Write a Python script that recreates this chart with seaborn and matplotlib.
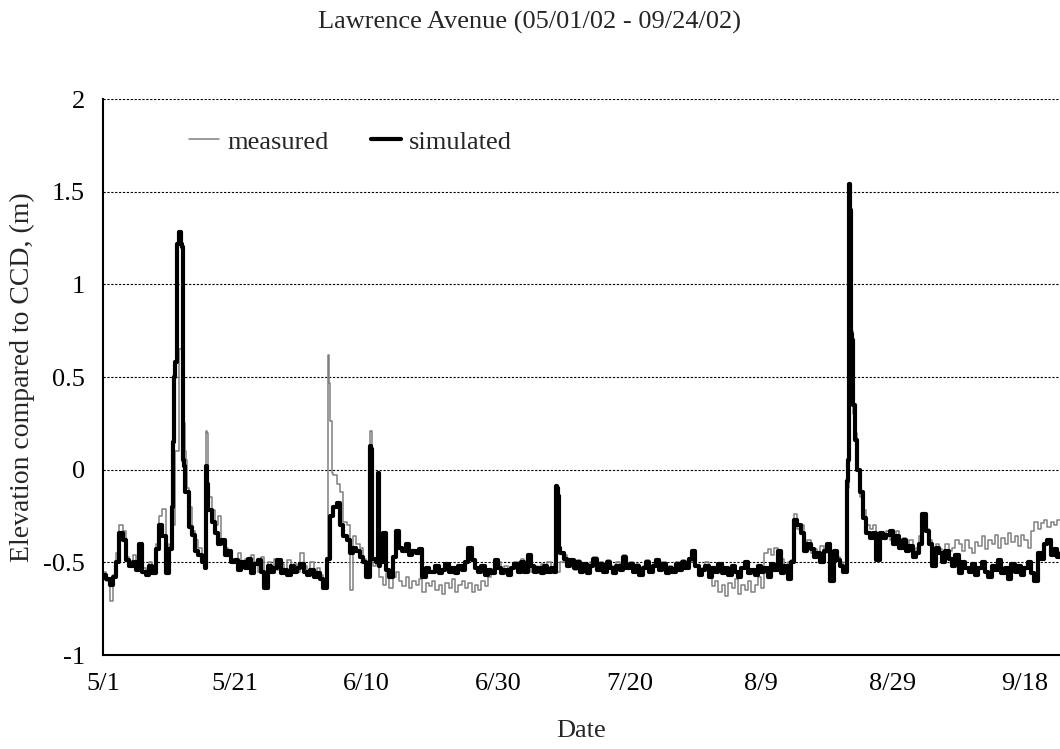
import numpy as np
import pandas as pd
import matplotlib
matplotlib.use("Agg")
import matplotlib.pyplot as plt
import seaborn as sns

# =========================
# DATA (days since 5/1, half-day samples + peak detail)
# =========================
day_grid = np.arange(0, 146, 0.5)

sim_base = [
    -0.57, -0.59, -0.62, -0.58, -0.50, -0.34, -0.38, -0.49, -0.52, -0.50, -0.54, -0.40, -0.55, -0.57, -0.52, -0.56, -0.43, -0.30, -0.36, -0.56,
    -0.43, -0.20, 0.58, 1.27, 1.20, -0.12, -0.31, -0.35, -0.44, -0.46, -0.50, -0.53, -0.22, -0.28, -0.34, -0.40, -0.38, -0.46, -0.44, -0.50,
    -0.49, -0.54, -0.50, -0.53, -0.48, -0.56, -0.51, -0.49, -0.55, -0.64, -0.52, -0.55, -0.53, -0.49, -0.56, -0.54, -0.57, -0.52, -0.55, -0.53,
    -0.51, -0.55, -0.57, -0.54, -0.58, -0.56, -0.59, -0.64, -0.48, -0.25, -0.20, -0.18, -0.30, -0.36, -0.38, -0.45, -0.42, -0.44, -0.47, -0.50,
    -0.58, -0.50, -0.48, -0.50, -0.52, -0.34, -0.54, -0.58, -0.47, -0.33, -0.42, -0.44, -0.40, -0.46, -0.44, -0.45, -0.43, -0.58, -0.53, -0.55,
    -0.55, -0.52, -0.56, -0.54, -0.51, -0.55, -0.53, -0.56, -0.52, -0.54, -0.50, -0.42, -0.49, -0.53, -0.55, -0.52, -0.57, -0.54, -0.56, -0.49,
    -0.53, -0.56, -0.54, -0.57, -0.53, -0.51, -0.55, -0.50, -0.55, -0.46, -0.52, -0.55, -0.53, -0.56, -0.52, -0.55, -0.53, -0.55, -0.10, -0.45,
    -0.48, -0.52, -0.49, -0.53, -0.50, -0.55, -0.51, -0.56, -0.52, -0.48, -0.54, -0.51, -0.55, -0.50, -0.53, -0.56, -0.52, -0.54, -0.47, -0.53,
    -0.51, -0.55, -0.52, -0.57, -0.53, -0.50, -0.55, -0.52, -0.49, -0.54, -0.51, -0.56, -0.53, -0.55, -0.51, -0.54, -0.50, -0.53, -0.48, -0.44,
    -0.52, -0.57, -0.54, -0.52, -0.58, -0.53, -0.55, -0.51, -0.56, -0.53, -0.57, -0.52, -0.55, -0.58, -0.53, -0.50, -0.56, -0.54, -0.57, -0.52,
    -0.55, -0.53, -0.58, -0.51, -0.54, -0.44, -0.56, -0.52, -0.59, -0.50, -0.27, -0.30, -0.34, -0.44, -0.40, -0.43, -0.47, -0.45, -0.50, -0.44,
    -0.40, -0.60, -0.44, -0.49, -0.52, -0.55, -0.55, 1.40, 0.35, 0.00, -0.12, -0.26, -0.34, -0.37, -0.34, -0.49, -0.34, -0.37, -0.35, -0.33,
    -0.40, -0.36, -0.42, -0.38, -0.44, -0.41, -0.47, -0.45, -0.40, -0.24, -0.33, -0.40, -0.52, -0.42, -0.45, -0.50, -0.44, -0.48, -0.52, -0.46,
    -0.56, -0.50, -0.53, -0.55, -0.51, -0.57, -0.53, -0.50, -0.55, -0.58, -0.52, -0.54, -0.49, -0.56, -0.53, -0.59, -0.51, -0.55, -0.52, -0.57,
    -0.53, -0.50, -0.56, -0.60, -0.45, -0.48, -0.40, -0.38, -0.46, -0.43, -0.47, -0.45,
]
sim_peak_days = [10.7, 10.8, 11.3, 11.6, 11.9, 12.1, 12.3, 15.6, 15.75,
                 40.6, 40.75, 40.9, 41.8, 41.95, 42.1,
                 68.85, 68.9, 69.2, 69.3,
                 113.1, 113.2, 113.35, 113.45, 113.6, 113.7, 113.8, 113.9, 114.2, 114.3]
sim_peak_vals = [0.15, 0.50, 1.22, 1.28, 1.22, 0.05, 0.02, 0.02, -0.08,
                 0.13, 0.11, -0.48, -0.02, -0.05, -0.50,
                 -0.54, -0.09, -0.14, -0.42,
                 -0.06, 0.05, 1.54, 1.50, 1.33, 0.73, 0.70, 0.40, 0.20, 0.16]

meas_base = [
    -0.55, -0.60, -0.71, -0.57, -0.45, -0.30, -0.33, -0.47, -0.50, -0.46, -0.52, -0.44, -0.53, -0.55, -0.50, -0.53, -0.40, -0.25, -0.21, -0.50,
    -0.40, -0.30, 0.10, 0.60, 0.30, 0.10, -0.20, -0.33, -0.38, -0.42, -0.48, -0.50, -0.15, -0.22, -0.30, -0.25, -0.38, -0.42, -0.45, -0.48,
    -0.50, -0.45, -0.52, -0.48, -0.53, -0.46, -0.50, -0.55, -0.47, -0.58, -0.50, -0.52, -0.48, -0.54, -0.51, -0.56, -0.49, -0.53, -0.51, -0.55,
    -0.45, -0.52, -0.55, -0.50, -0.56, -0.53, -0.57, -0.60, -0.50, 0.26, -0.03, -0.08, -0.12, -0.28, -0.30, -0.65, -0.36, -0.40, -0.42, -0.48,
    -0.55, -0.45, -0.52, -0.48, -0.58, -0.62, -0.56, -0.64, -0.58, -0.55, -0.60, -0.63, -0.58, -0.64, -0.60, -0.62, -0.59, -0.66, -0.61, -0.63,
    -0.60, -0.65, -0.62, -0.67, -0.61, -0.64, -0.59, -0.66, -0.62, -0.60, -0.64, -0.61, -0.66, -0.62, -0.65, -0.60, -0.63, -0.58, -0.55, -0.52,
    -0.50, -0.55, -0.52, -0.56, -0.53, -0.50, -0.54, -0.48, -0.53, -0.50, -0.55, -0.52, -0.56, -0.51, -0.54, -0.50, -0.53, -0.51, -0.55, -0.50,
    -0.46, -0.52, -0.50, -0.54, -0.49, -0.53, -0.51, -0.55, -0.50, -0.47, -0.53, -0.50, -0.54, -0.49, -0.52, -0.55, -0.50, -0.53, -0.46, -0.52,
    -0.50, -0.54, -0.51, -0.55, -0.52, -0.49, -0.54, -0.51, -0.50, -0.53, -0.50, -0.55, -0.52, -0.54, -0.50, -0.53, -0.49, -0.52, -0.50, -0.45,
    -0.52, -0.55, -0.53, -0.50, -0.55, -0.63, -0.60, -0.66, -0.62, -0.68, -0.61, -0.64, -0.59, -0.67, -0.62, -0.65, -0.60, -0.66, -0.62, -0.58,
    -0.64, -0.45, -0.43, -0.46, -0.42, -0.44, -0.48, -0.52, -0.50, -0.49, -0.24, -0.32, -0.30, -0.42, -0.38, -0.45, -0.43, -0.47, -0.41, -0.45,
    -0.42, -0.55, -0.45, -0.47, -0.50, -0.52, -0.50, 0.50, 0.30, 0.00, -0.15, -0.22, -0.30, -0.32, -0.30, -0.38, -0.34, -0.36, -0.33, -0.38,
    -0.36, -0.33, -0.40, -0.37, -0.42, -0.38, -0.45, -0.42, -0.36, -0.29, -0.32, -0.38, -0.45, -0.40, -0.43, -0.46, -0.40, -0.44, -0.42, -0.38,
    -0.40, -0.44, -0.38, -0.42, -0.45, -0.39, -0.41, -0.36, -0.43, -0.38, -0.40, -0.35, -0.42, -0.37, -0.40, -0.34, -0.39, -0.36, -0.41, -0.35,
    -0.38, -0.42, -0.33, -0.28, -0.32, -0.29, -0.27, -0.31, -0.28, -0.30, -0.27, -0.29,
]
meas_peak_days = [11.6, 12.2, 12.6, 12.8, 15.6, 15.8, 15.9,
                  34.15, 34.2, 34.3, 34.8,
                  40.6, 40.75, 40.85,
                  113.1, 113.3, 113.45, 113.7, 114.2]
meas_peak_vals = [0.65, 0.25, 0.05, -0.10, 0.21, 0.20, -0.05,
                  -0.45, 0.62, 0.47, -0.02,
                  0.21, 0.21, -0.40,
                  -0.10, 0.80, 1.00, 0.75, 0.20]

tick_days = [0, 20, 40, 60, 80, 100, 120, 140]
tick_labels = ["5/1", "5/21", "6/10", "6/30", "7/20", "8/9", "8/29", "9/18"]

# =========================
# BUILD TABLES
# =========================
def build(base, pk_days, pk_vals):
    df = pd.concat([
        pd.DataFrame({"day": day_grid, "elev": base}),
        pd.DataFrame({"day": pk_days, "elev": pk_vals}),
    ])
    return df.sort_values("day").reset_index(drop=True)

meas_df = build(meas_base, meas_peak_days, meas_peak_vals)
sim_df = build(sim_base, sim_peak_days, sim_peak_vals)

# =========================
# PLOT
# =========================
sns.set_style("white")
plt.rcParams["font.family"] = ["Liberation Serif", "DejaVu Serif"]
FS = 19

fig = plt.figure(figsize=(10.6, 7.49), dpi=100)
ax = fig.add_axes([103 / 1060, 1 - 655 / 749, (1060 - 103) / 1060, 556 / 749])

sns.lineplot(data=meas_df, x="day", y="elev", ax=ax, color="#808080",
             lw=1.1, estimator=None, sort=False, drawstyle="steps-post",
             label="measured")
sns.lineplot(data=sim_df, x="day", y="elev", ax=ax, color="black",
             lw=3.0, estimator=None, sort=False, drawstyle="steps-post",
             label="simulated")

ax.set_xlim(0, 145.4)
ax.set_ylim(-1, 2)
ax.set_xticks(tick_days)
ax.set_xticklabels(tick_labels)
ax.set_yticks([-1, -0.5, 0, 0.5, 1, 1.5, 2])
ax.set_yticklabels(["-1", "-0.5", "0", "0.5", "1", "1.5", "2"])

for v in [-0.5, 0, 0.5, 1, 1.5, 2]:
    ax.axhline(v, color="black", lw=0.8, ls=(0, (2, 1.5)), zorder=0)

for s in ["top", "right"]:
    ax.spines[s].set_visible(False)
for s in ["left", "bottom"]:
    ax.spines[s].set_color("black")
    ax.spines[s].set_linewidth(1.5)

ax.tick_params(axis="both", direction="out", length=5, width=1.5,
               colors="black", labelsize=FS, pad=8)

ax.set_xlabel("Date", fontsize=FS, labelpad=18)
ax.set_ylabel("Elevation compared to CCD, (m)", fontsize=20, labelpad=6)
fig.suptitle("Lawrence Avenue (05/01/02 - 09/24/02)", fontsize=FS, y=0.985)

ax.legend(loc="center left", bbox_to_anchor=(0.09, 0.923), ncol=2, frameon=False,
          fontsize=FS, handlelength=1.15, handletextpad=0.3, columnspacing=1.6,
          borderaxespad=0, borderpad=0)

plt.savefig("out.png", dpi=100)
plt.close()
